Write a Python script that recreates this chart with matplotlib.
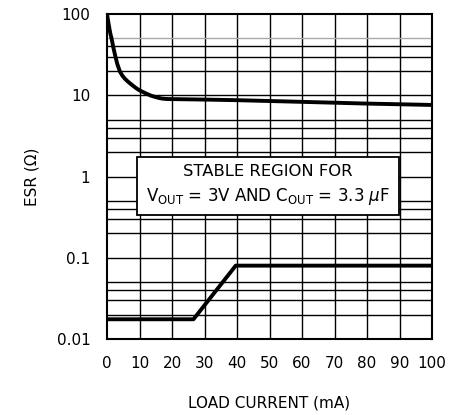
import numpy as np
import matplotlib
matplotlib.use("Agg")
import matplotlib.pyplot as plt
from matplotlib.patches import Rectangle
from matplotlib.ticker import FixedLocator, NullFormatter

# Upper stability boundary (ESR max)
upper_current = [0, 0.5, 1.0, 1.4, 2.0, 2.5, 3.2, 4.0, 4.7, 5.5, 6.3, 7.1, 8.0, 9.0,
                 10.0, 11.2, 12.3, 13.5, 14.6, 15.8, 17.0, 18.3, 20, 22, 30, 40,
                 50, 60, 70, 80, 90, 100]
upper_esr = [100, 75, 58, 50, 38, 31, 24, 19.5, 17.5, 16, 14.9, 14, 13.1, 12.2,
             11.5, 10.9, 10.4, 9.9, 9.6, 9.3, 9.1, 9.0, 8.97, 8.95, 8.85, 8.7,
             8.5, 8.3, 8.1, 7.9, 7.75, 7.6]

# Lower stability boundary (ESR min)
lower_current = [0, 26.6, 39.6, 100]
lower_esr = [0.0175, 0.0175, 0.08, 0.08]

x_ticks = [0, 10, 20, 30, 40, 50, 60, 70, 80, 90, 100]
y_ticks = [0.01, 0.1, 1, 10, 100]
y_labels = ["0.01", "0.1", "1", "10", "100"]
minor_mult = [2, 3, 4, 5]

fig = plt.figure(figsize=(4.54, 4.15), dpi=100)
ax = fig.add_axes([0.2357, 0.1831, 0.7159, 0.7831])

ax.set_yscale("log")
ax.set_xlim(0, 100)
ax.set_ylim(0.01, 100)

# grid: every 10 mA, and 2,3,4,5 of each decade
for x in x_ticks[1:-1]:
    ax.axvline(x, color="black", lw=1, zorder=1)
for dec in [0.01, 0.1, 1, 10]:
    for m in minor_mult:
        c = "#aaaaaa" if dec * m == 50 else "black"
        ax.axhline(dec * m, color=c, lw=1, zorder=1)
    if dec > 0.01:
        ax.axhline(dec, color="black", lw=1, zorder=1)

ax.plot(upper_current, upper_esr, color="black", lw=2.8, zorder=3,
        solid_joinstyle="round", solid_capstyle="butt")
ax.plot(lower_current, lower_esr, color="black", lw=2.8, zorder=3)

ax.set_xticks(x_ticks)
ax.set_xticklabels([str(v) for v in x_ticks], fontsize=11)
ax.yaxis.set_major_locator(FixedLocator(y_ticks))
ax.set_yticklabels(y_labels, fontsize=11)
ax.yaxis.set_minor_formatter(NullFormatter())
ax.tick_params(axis="both", which="both", length=0)
ax.tick_params(axis="x", pad=12)
ax.tick_params(axis="y", pad=12)

for s in ax.spines.values():
    s.set_linewidth(1.5)

ax.set_xlabel("LOAD CURRENT (mA)", fontsize=11, labelpad=18)
ax.set_ylabel("ESR (\u03a9)", fontsize=11, labelpad=12)

# annotation box
ax.add_patch(Rectangle((0.093, 0.3815), 0.806, 0.1775, transform=ax.transAxes,
                       fc="white", ec="black", lw=1.3, zorder=5))
ax.text(0.496, 0.515, "STABLE REGION FOR", transform=ax.transAxes,
        ha="center", va="center", fontsize=11.8, zorder=6)
ax.text(0.496, 0.440,
        r"$\mathregular{V_{OUT}}$ = 3V AND $\mathregular{C_{OUT}}$ = 3.3 $\mu$F",
        transform=ax.transAxes, ha="center", va="center", fontsize=12, zorder=6)

fig.savefig("out.png", dpi=100)
